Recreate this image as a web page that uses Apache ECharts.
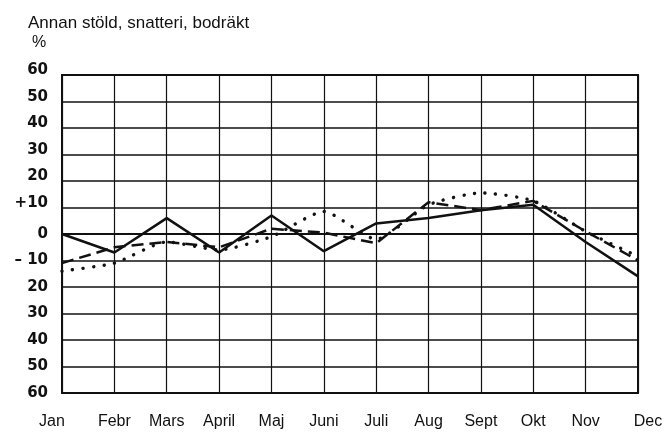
<!DOCTYPE html>
<html>
<head>
<meta charset="utf-8">
<script src="https://cdn.jsdelivr.net/npm/echarts@6/dist/echarts.min.js"></script>
<style>html,body{margin:0;padding:0;background:#fff}#c{width:666px;height:434px}</style>
</head>
<body>
<div id="c"></div>
<script>
var months = ['Jan','Febr','Mars','April','Maj','Juni','Juli','Aug','Sept','Okt','Nov','Dec'];
var solidVals = [0, -7, 6, -7, 7, -6.5, 4, 6, 9, 11, -3, -16];
var dashedVals = [-11, -5, -3, -5, 2, 0.5, -3.5, 12, 9, 12.5, 1, -10];
var dottedVals = [-14, -11, -3, -6, -1, 8.5, -2, 11, 15.5, 12.5, 1, -8.5];
var yTicks = {'60':'60','50':'50','40':'40','30':'30','20':'20','10':'+10','0':'0','-10':'\u2013 10','-20':'20','-30':'30','-40':'40','-50':'50','-60':'60'};

var chart = echarts.init(document.getElementById('c'), null, {renderer:'canvas'});
var ink = '#111';
var sans = 'Liberation Sans, Arial, sans-serif';
var ylab = 'DejaVu Sans, sans-serif';
chart.setOption({
  animation: false,
  backgroundColor: '#fff',
  title: [
    {text: 'Annan stöld, snatteri, bodräkt', left: 28, top: 15, padding: 0,
     textStyle: {fontFamily: sans, fontSize: 17, fontWeight: 'normal', color: ink}},
    {text: '%', left: 32, top: 35, padding: 0,
     textStyle: {fontFamily: sans, fontSize: 16, fontWeight: 'normal', color: ink}}
  ],
  grid: {left: 62, right: 28, top: 75, bottom: 41, show: true, borderColor: ink, borderWidth: 2, backgroundColor: 'transparent'},
  xAxis: {
    type: 'category', data: months, boundaryGap: false,
    axisLine: {show: true, lineStyle: {color: ink, width: 2}},
    axisTick: {show: false},
    axisLabel: {
      color: ink, fontFamily: sans, fontSize: 16, margin: 21, interval: 0,
      formatter: function (v, i) {
        if (i === 0) return '{l|' + v + '}';
        if (i === months.length - 1) return '{r|' + v + '}';
        return v;
      },
      rich: {
        l: {fontFamily: sans, fontSize: 16, color: ink, padding: [0, 20, 0, 0]},
        r: {fontFamily: sans, fontSize: 16, color: ink, padding: [0, 0, 0, 20]}
      }
    },
    splitLine: {show: true, lineStyle: {color: ink, width: 1.2}}
  },
  yAxis: {
    type: 'value', min: -60, max: 60, interval: 10,
    axisLine: {show: true, lineStyle: {color: ink, width: 2}},
    axisTick: {show: false},
    axisLabel: {
      color: ink, fontFamily: ylab, fontSize: 15, fontWeight: 'bold', margin: 14,
      formatter: function (v) {
        var t = yTicks[String(v)];
        return v > 0 ? '{u|' + t + '}' : '{d|' + t + '}';
      },
      rich: {
        u: {fontSize: 15, fontWeight: 'bold', color: ink, padding: [0, 0, 9, 0], fontFamily: ylab},
        d: {fontSize: 15, fontWeight: 'bold', color: ink, fontFamily: ylab}
      }
    },
    splitLine: {show: true, lineStyle: {color: ink, width: 1.5}}
  },
  series: [
    {type: 'line', data: solidVals, symbol: 'none', smooth: false,
     lineStyle: {color: ink, width: 2.5, type: 'solid'}},
    {type: 'line', data: dashedVals, symbol: 'none', smooth: false,
     lineStyle: {color: ink, width: 2.5, type: [12, 6]}},
    {type: 'line', data: dottedVals, symbol: 'none', smooth: 0.2,
     lineStyle: {color: ink, width: 3.4, type: [0.1, 10.5], cap: 'round'}}
  ]
});
</script>
</body>
</html>
